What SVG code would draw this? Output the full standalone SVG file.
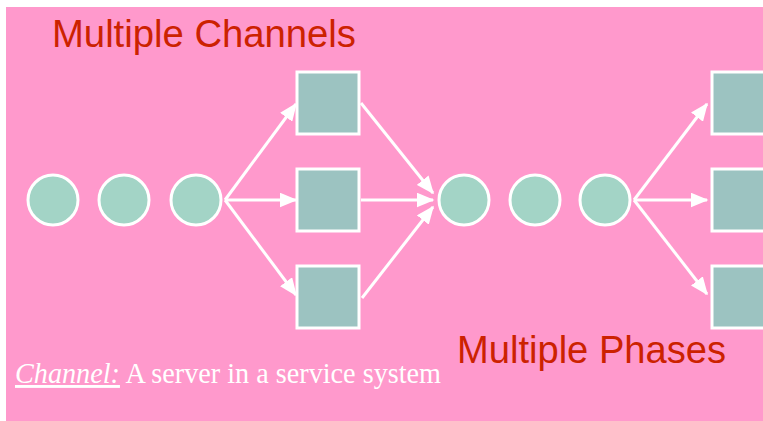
<svg xmlns="http://www.w3.org/2000/svg" width="763" height="421" viewBox="0 0 763 421">
<style>
.bg{fill:#FF99CC}
.cust{fill:#A3D4C6;stroke:#FFFFFF;stroke-width:3}
.srv{fill:#9CC3C1;stroke:#FFFFFF;stroke-width:3}
.title{font-family:"Liberation Sans",Arial,sans-serif;font-size:38px;fill:#CC2200}
.note{font-family:"Liberation Serif","Times New Roman",serif;font-size:29px;fill:#FFFFFF}
.conn{stroke:#FFFFFF;stroke-width:3;fill:none;marker-end:url(#ah)}
</style>
<defs>
<marker id="ah" markerWidth="6" markerHeight="5" refX="5.5" refY="2.5" orient="auto" markerUnits="strokeWidth">
<path d="M0,0 L6,2.5 L0,5 Z" fill="#FFFFFF"/>
</marker>
</defs>
<rect class="bg" x="6" y="7" width="757" height="414"/>
<g id="title-channels"><text class="title" x="52" y="47" textLength="304" lengthAdjust="spacingAndGlyphs">Multiple Channels</text></g>
<g id="title-phases"><text class="title" x="457" y="363" textLength="269" lengthAdjust="spacingAndGlyphs">Multiple Phases</text></g>
<g id="note"><text class="note" x="15" y="383" textLength="426" lengthAdjust="spacingAndGlyphs"><tspan font-style="italic" text-decoration="underline">Channel:</tspan> A server in a service system</text></g>
<g id="connectors">
<line class="conn" x1="225" y1="200" x2="296" y2="104"/>
<line class="conn" x1="225" y1="200" x2="296" y2="200"/>
<line class="conn" x1="225" y1="200" x2="296" y2="295"/>
<line class="conn" x1="361" y1="103" x2="433" y2="193"/>
<line class="conn" x1="361" y1="200" x2="433" y2="200"/>
<line class="conn" x1="362" y1="298" x2="433" y2="207"/>
<line class="conn" x1="634" y1="200" x2="707" y2="104"/>
<line class="conn" x1="634" y1="200" x2="707" y2="200"/>
<line class="conn" x1="634" y1="200" x2="707" y2="294"/>
</g>
<g id="c1"><circle class="cust" cx="53" cy="200" r="25"/></g>
<g id="c2"><circle class="cust" cx="124" cy="200" r="25"/></g>
<g id="c3"><circle class="cust" cx="196" cy="200" r="25"/></g>
<g id="s1"><rect class="srv" x="297" y="72" width="62" height="62"/></g>
<g id="s2"><rect class="srv" x="297" y="169" width="62" height="62"/></g>
<g id="s3"><rect class="srv" x="297" y="266" width="62" height="62"/></g>
<g id="c4"><circle class="cust" cx="464" cy="200" r="25"/></g>
<g id="c5"><circle class="cust" cx="535" cy="200" r="25"/></g>
<g id="c6"><circle class="cust" cx="605" cy="200" r="25"/></g>
<g id="s4"><rect class="srv" x="712" y="72" width="62" height="62"/></g>
<g id="s5"><rect class="srv" x="712" y="169" width="62" height="62"/></g>
<g id="s6"><rect class="srv" x="712" y="266" width="62" height="62"/></g>
</svg>
